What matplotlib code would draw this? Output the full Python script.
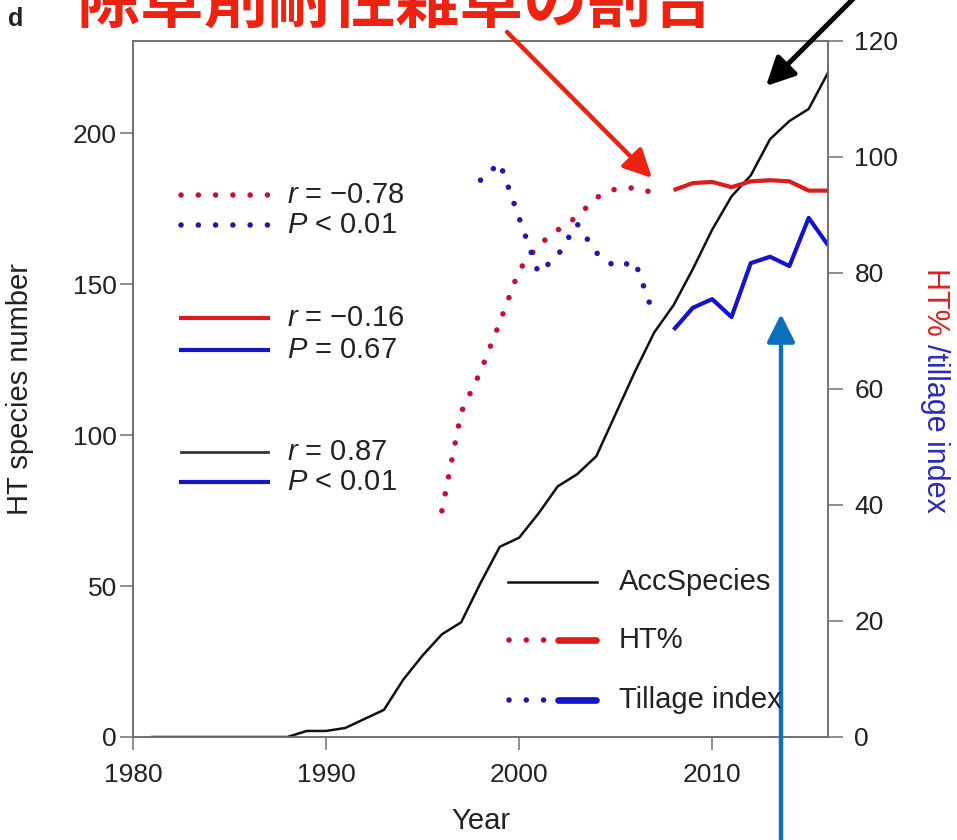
import matplotlib
matplotlib.use("Agg")
import matplotlib.pyplot as plt
from matplotlib.lines import Line2D
from matplotlib.patches import FancyArrowPatch

plt.rcParams['font.family'] = ['Liberation Sans', 'DejaVu Sans']
plt.rcParams['mathtext.fontset'] = 'custom'
plt.rcParams['mathtext.it'] = 'Liberation Sans:italic'
plt.rcParams['mathtext.rm'] = 'Liberation Sans'

# ---- data ---------------------------------------------------------------
years = list(range(1981, 2017))
acc_species = [0, 0, 0, 0, 0, 0, 0, 0,
               2, 2, 3, 6, 9, 19, 27, 34, 38, 51, 63, 66, 74, 83, 87, 93,
               107, 121, 134, 143, 155, 168, 179, 186, 198, 204, 208, 220]

ht_early_years = list(range(1996, 2008))
ht_early = [39, 56, 63, 71.5, 80.5, 84.8, 87.4, 89.7, 93, 94.5, 94.7, 93.8]
ht_late_years = list(range(2008, 2017))
ht_late = [94.3, 95.5, 95.7, 94.8, 95.8, 96, 95.8, 94.2, 94.2]

till_early_years = list(range(1998, 2008))
till_early = [96, 99, 89.5, 80, 83, 88.5, 83.5, 81, 82, 72.5]
till_late_years = list(range(2008, 2017))
till_late = [70.2, 74, 75.5, 72.4, 81.7, 82.8, 81.2, 89.5, 84.8]

x_ticks = [1980, 1990, 2000, 2010]
left_ticks = [0, 50, 100, 150, 200]
right_ticks = [0, 20, 40, 60, 80, 100, 120]

stats = [("$r$ = \u22120.78", "$P$ < 0.01"),
         ("$r$ = \u22120.16", "$P$ = 0.67"),
         ("$r$ = 0.87", "$P$ < 0.01")]
legend_labels = ["AccSpecies", "HT%", "Tillage index"]
title = "除草剤耐性雑草の割合"

# ---- styles -------------------------------------------------------------
W, H = 957, 840
RED_DOT = "#c8102e"
RED = "#dd1c1c"
BLUE_DOT = "#1c1ca8"
BLUE = "#1414c8"
BLACK = "#111111"
SPINE = "#707070"
TXT = "#222222"
ANN_RED = "#ee2211"
ANN_BLUE = "#0a6fbd"
FS = 19
FS_TXT = 21
DOT_LW = 4.0
DOTS = (0, (0.01, 3.1))
SOLID_LW = 3.0


def fx(px):
    return px / W


def fy(py):
    return 1 - py / H


fig = plt.figure(figsize=(W / 100, H / 100), dpi=100)
ax = fig.add_axes([fx(133), fy(737), fx(828) - fx(133), fy(41) - fy(737)])
ax2 = ax.twinx()

# accumulated species on the left axis
ax.plot(years, acc_species, color=BLACK, lw=1.8, zorder=3)

# HT% and tillage index on the right axis
ax2.plot(ht_early_years, ht_early, color=RED_DOT, lw=DOT_LW, ls=DOTS,
         dash_capstyle="round")
ax2.plot(ht_late_years, ht_late, color=RED, lw=SOLID_LW, solid_capstyle="butt")
ax2.plot(till_early_years, till_early, color=BLUE_DOT, lw=DOT_LW, ls=DOTS,
         dash_capstyle="round")
ax2.plot(till_late_years, till_late, color=BLUE, lw=SOLID_LW,
         solid_capstyle="butt")

ax.set_xlim(1980, 2016)
ax.set_ylim(0, 230.5)
ax2.set_ylim(0, 120)
ax.set_xticks(x_ticks)
ax.set_yticks(left_ticks)
ax2.set_yticks(right_ticks)

for a in (ax, ax2):
    for s in a.spines.values():
        s.set_color(SPINE)
        s.set_linewidth(1.2)
    a.tick_params(direction="out", length=9.5, width=1.1, color=SPINE,
                  labelsize=FS, labelcolor=TXT, pad=2)
ax.tick_params(axis="x", pad=9)
ax2.tick_params(axis="y", length=11, pad=8)

ax.set_xlabel("Year", fontsize=FS_TXT, color=TXT)
ax.xaxis.set_label_coords(0.5, -0.1)
ax.set_ylabel("HT species number", fontsize=FS_TXT, color=TXT)
ax.yaxis.set_label_coords(-0.142, 0.5)

# ---- correlation keys on the left ---------------------------------------
key_rows = [
    (195, dict(color=RED_DOT, lw=DOT_LW, ls=DOTS, dash_capstyle="round")),
    (225, dict(color=BLUE_DOT, lw=DOT_LW, ls=DOTS, dash_capstyle="round")),
    (318, dict(color=RED, lw=SOLID_LW)),
    (350, dict(color=BLUE, lw=SOLID_LW)),
    (452, dict(color="#333333", lw=2.0)),
    (482, dict(color=BLUE, lw=SOLID_LW)),
]
key_texts = [t for pair in stats for t in pair]
for (py, style), txt in zip(key_rows, key_texts):
    fig.add_artist(Line2D([fx(181), fx(268)], [fy(py), fy(py)],
                          transform=fig.transFigure, **style))
    fig.text(fx(287), fy(py), txt, fontsize=FS_TXT, color=TXT,
             ha="left", va="center")

# ---- series key at the bottom right ---------------------------------------
fig.add_artist(Line2D([fx(508), fx(597)], [fy(582), fy(582)],
                      transform=fig.transFigure, color=BLACK, lw=1.8))
for py, dcol, scol in [(640, RED_DOT, RED), (700, BLUE_DOT, BLUE)]:
    fig.add_artist(Line2D([fx(509), fx(546)], [fy(py), fy(py)],
                          transform=fig.transFigure, color=dcol, lw=DOT_LW,
                          ls=DOTS, dash_capstyle="round"))
    fig.add_artist(Line2D([fx(558), fx(596)], [fy(py), fy(py)],
                          transform=fig.transFigure, color=scol, lw=4.8,
                          solid_capstyle="round"))
for py, txt in zip([582, 640, 700], legend_labels):
    fig.text(fx(619), fy(py), txt, fontsize=FS_TXT, color=TXT,
             ha="left", va="center")

# ---- right axis label in two colours ------------------------------------
fig.canvas.draw()
t1 = fig.text(fx(935), fy(268), "HT% ", fontsize=FS_TXT + 1, color="#e02020",
              rotation=270, ha="center", va="top")
fig.canvas.draw()
bb = t1.get_window_extent()
fig.text(fx(935), bb.y0 / H, "/tillage index", fontsize=FS_TXT + 1,
         color="#2a2ac0", rotation=270, ha="center", va="top")

# panel letter
fig.text(fx(8), fy(26), "d", fontsize=18, fontweight="bold", color=TXT,
         ha="left", va="baseline")

# ---- title and pointer arrows -------------------------------------------
fig.text(fx(396), fy(3), title, fontsize=46, fontweight="bold",
         color=ANN_RED, family=["Noto Sans CJK JP", "DejaVu Sans"],
         ha="center", va="center")


def arrow(p0, p1, color, lw):
    fig.add_artist(FancyArrowPatch(
        (fx(p0[0]), fy(p0[1])), (fx(p1[0]), fy(p1[1])),
        transform=fig.transFigure,
        arrowstyle="-|>,head_length=17,head_width=8.5",
        mutation_scale=1, color=color, lw=lw, shrinkA=0, shrinkB=0))


arrow((507, 32), (652, 178), ANN_RED, 3.2)
arrow((862, -10), (766, 86), "#000000", 3.6)
arrow((781, 845), (781, 314), ANN_BLUE, 3.2)

fig.savefig("out.png", dpi=100)
